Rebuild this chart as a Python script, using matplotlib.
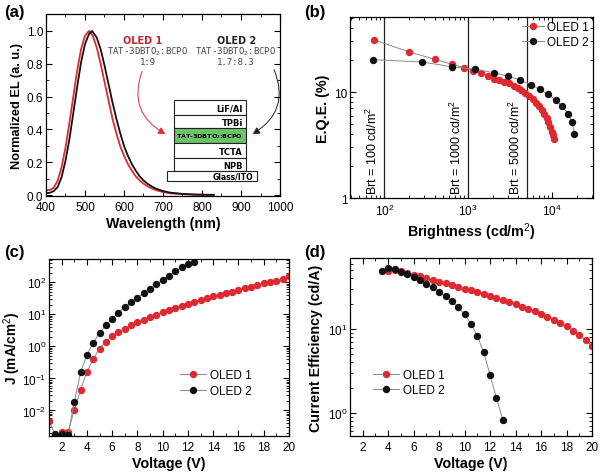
import matplotlib
matplotlib.use("Agg")
import matplotlib.pyplot as plt
from matplotlib.ticker import MultipleLocator, LogLocator, NullFormatter, FixedLocator
from matplotlib.patches import Rectangle, FancyArrowPatch

plt.rcParams['font.family'] = ['Liberation Sans', 'DejaVu Sans']
plt.rcParams['mathtext.fontset'] = 'custom'
plt.rcParams['mathtext.rm'] = 'Liberation Sans'
plt.rcParams['mathtext.bf'] = 'Liberation Sans:bold'

RED = '#dc2a30'
BLACK = '#111111'
GRAY = '#8a8a8a'

# ---------------- data (a) ----------------
wl_1 = [400, 410, 420, 430, 440, 450, 460, 470, 480, 490, 500, 510, 520, 530, 540, 550, 560, 570,
        580, 590, 600, 610, 620, 630, 640, 650, 660, 670, 680, 700, 720, 750, 780, 800, 830]
el_1 = [0.030, 0.032, 0.045, 0.09, 0.17, 0.29, 0.44, 0.60, 0.76, 0.89, 0.97, 1.00, 0.97, 0.90,
        0.80, 0.69, 0.58, 0.47, 0.38, 0.30, 0.24, 0.19, 0.15, 0.115, 0.09, 0.07, 0.055, 0.042,
        0.032, 0.019, 0.011, 0.006, 0.003, 0.002, 0.002]
wl_2 = [400, 410, 420, 430, 440, 450, 460, 470, 480, 490, 500, 510, 518, 530, 540, 550, 560, 570,
        580, 590, 600, 610, 620, 630, 640, 650, 660, 670, 680, 700, 720, 750, 780, 800, 830]
el_2 = [0.012, 0.015, 0.025, 0.05, 0.11, 0.21, 0.34, 0.50, 0.66, 0.81, 0.92, 0.98, 1.00, 0.96,
        0.89, 0.79, 0.68, 0.57, 0.47, 0.38, 0.30, 0.24, 0.19, 0.15, 0.115, 0.09, 0.07, 0.055,
        0.042, 0.025, 0.015, 0.008, 0.004, 0.003, 0.002]

# ---------------- data (b) ----------------
brt_1 = [76, 197, 398, 641, 892, 1150, 1410, 1710, 2015, 2355, 2700, 3100, 3520, 3930, 4340,
         4800, 5320, 5880, 6440, 7000, 7530, 8100, 8640, 9120, 9550, 10000, 10380, 10570]
eqe_1 = [31.0, 23.9, 20.4, 18.3, 17.0, 15.9, 15.0, 14.2, 13.4, 12.9, 12.5, 12.1, 11.5, 10.9,
         10.4, 9.7, 9.16, 8.5, 7.9, 7.4, 6.76, 6.2, 5.7, 5.2, 4.67, 4.18, 3.9, 3.6]
brt_2 = [73, 281, 641, 1215, 2030, 3010, 4150, 5620, 7200, 8960, 11160, 13300, 15650, 17470, 18620]
eqe_2 = [20.2, 19.2, 17.3, 16.4, 15.2, 14.1, 13.0, 11.7, 10.6, 9.5, 8.46, 7.3, 6.24, 5.2, 4.04]
brt_marks = [100, 1000, 5000]
brt_labels = ['Brt = 100 cd/m$^2$', 'Brt = 1000 cd/m$^2$', 'Brt = 5000 cd/m$^2$']

# ---------------- data (c) ----------------
v_j1 = [1.0, 1.5, 2.0, 2.5, 3.0, 3.5, 4.0, 4.5, 5.0, 5.5, 6.0, 6.5, 7.0, 7.5, 8.0, 8.5, 9.0, 9.5,
        10.0, 10.5, 11.0, 11.5, 12.0, 12.5, 13.0, 13.5, 14.0, 14.5, 15.0, 15.5, 16.0, 16.5, 17.0,
        17.5, 18.0, 18.5, 19.0, 19.5, 20.0]
j_1 = [0.0048, 0.0017, 0.0021, 0.0021, 0.0102, 0.044, 0.158, 0.40, 0.85, 1.4, 2.05, 2.8, 3.56,
       4.5, 5.6, 6.8, 8.05, 9.8, 11.5, 13.3, 15.8, 18.2, 21.0, 24.9, 28.0, 31.6, 36.5, 41.0, 45.0,
       51.0, 59.0, 65.0, 73.0, 83.0, 93.0, 102.0, 113.0, 130.0, 154.0]
v_j2 = [1.5, 2.0, 2.5, 3.0, 3.5, 4.0, 4.5, 5.0, 5.5, 6.0, 6.5, 7.0, 7.5, 8.0, 8.5, 9.0, 9.5, 10.0,
        10.5, 11.0, 11.5, 12.0, 12.5]
j_2 = [0.0019, 0.0018, 0.0017, 0.018, 0.154, 0.54, 1.3, 2.55, 4.5, 7.3, 11.3, 16.9, 23.7, 33.0,
       45.0, 62.0, 87.0, 118.0, 161.0, 220.0, 300.0, 383.0, 430.0]

# ---------------- data (d) ----------------
v_ce1 = [4.0, 4.5, 5.0, 5.5, 6.0, 6.5, 7.0, 7.5, 8.0, 8.5, 9.0, 9.5, 10.0, 10.5, 11.0, 11.5, 12.0,
         12.5, 13.0, 13.5, 14.0, 14.5, 15.0, 15.5, 16.0, 16.5, 17.0, 17.5, 18.0, 18.5, 19.0, 19.5, 20.0]
ce_1 = [49.2, 50.5, 48.7, 47.0, 44.5, 42.5, 40.2, 38.1, 36.4, 34.8, 33.2, 31.8, 30.3, 28.7, 27.5,
        26.0, 24.8, 23.5, 22.1, 20.9, 19.6, 18.4, 17.3, 16.2, 15.1, 14.0, 12.9, 11.8, 10.7, 9.56,
        8.5, 7.4, 6.2]
v_ce2 = [3.5, 4.0, 4.5, 5.0, 5.5, 6.0, 6.5, 7.0, 7.5, 8.0, 8.5, 9.0, 9.5, 10.0, 10.5, 11.0, 11.5,
         12.0, 12.5, 13.0]
ce_2 = [49.6, 52.9, 51.9, 47.9, 44.9, 41.4, 37.8, 34.5, 31.2, 27.7, 24.4, 21.3, 18.1, 14.9, 11.6,
        8.2, 5.24, 2.82, 1.49, 0.83]

labels = ['OLED 1', 'OLED 2']

fig = plt.figure(figsize=(6.0, 4.77), dpi=100)
W, H = 600.0, 477.0


def axes_px(l, t, r, b):
    return fig.add_axes([l / W, 1 - b / H, (r - l) / W, (b - t) / H])


LAB = dict(fontsize=10.3, fontweight='bold')


def style(ax):
    ax.tick_params(which='both', direction='in', top=True, right=True, labelsize=8.5)
    ax.tick_params(axis='x', which='both', pad=3.5)
    ax.tick_params(axis='y', which='both', pad=2)
    ax.tick_params(which='major', length=4, width=0.8)
    ax.tick_params(which='minor', length=2, width=0.6)
    for s in ax.spines.values():
        s.set_linewidth(0.9)


# ---------- (a) ----------
axa = axes_px(46, 15, 280, 197)
axa.plot(wl_1, el_1, color=RED, lw=1.3)
axa.plot(wl_2, el_2, color=BLACK, lw=1.3)
axa.set_xlim(400, 1000)
axa.set_ylim(-0.005, 1.103)
axa.xaxis.set_major_locator(MultipleLocator(100))
axa.xaxis.set_minor_locator(MultipleLocator(50))
axa.yaxis.set_major_locator(MultipleLocator(0.2))
axa.yaxis.set_minor_locator(MultipleLocator(0.1))
axa.yaxis.set_major_formatter(matplotlib.ticker.FormatStrFormatter('%.1f'))
axa.set_xlabel('Wavelength (nm)', labelpad=2, **LAB)
axa.set_ylabel('Normalized EL (a. u.)', labelpad=3, fontsize=9.2, fontweight='bold')
style(axa)

mono = dict(family='DejaVu Sans Mono', fontsize=6.5, color='#444444', ha='center', va='center')
axa.text(649, 0.945, 'OLED 1', color='#c8202a', fontsize=7, fontweight='bold', ha='center',
         va='center', family='DejaVu Sans')
axa.text(661, 0.879, 'TAT-3DBTO$_2$:BCPO', **mono)
axa.text(661, 0.812, '1:9', **mono)
axa.text(890, 0.945, 'OLED 2', color='#222222', fontsize=7, fontweight='bold', ha='center',
         va='center', family='DejaVu Sans')
axa.text(887, 0.879, 'TAT-3DBTO$_2$:BCPO', **mono)
axa.text(887, 0.812, '1.7:8.3', **mono)

# device stack
layers = [('LiF/Al', 0.578, 0.487, 'white'), ('TPBi', 0.487, 0.406, 'white'),
          ('TAT-3DBTO$_2$:BCPO', 0.406, 0.315, '#6cc36c'), ('TCTA', 0.315, 0.224, 'white'),
          ('NPB', 0.224, 0.147, 'white')]
for name, top, bot, fc in layers:
    axa.add_patch(Rectangle((728, bot), 913 - 728, top - bot, facecolor=fc, edgecolor='#222222',
                            lw=0.8, zorder=3))
    if fc == 'white':
        axa.text(905, (top + bot) / 2 - 0.004, name, fontsize=6, fontweight='bold', ha='right',
                 va='center', zorder=4, family='DejaVu Sans')
    else:
        axa.text(820, (top + bot) / 2, name, fontsize=4.6, fontweight='bold', ha='center',
                 va='center', zorder=4, family='DejaVu Sans')
axa.add_patch(Rectangle((710, 0.087), 941 - 710, 0.147 - 0.087, facecolor='white',
                        edgecolor='#222222', lw=0.8, zorder=3))
axa.text(880, 0.117, 'Glass/ITO', fontsize=5.5, fontweight='bold', ha='center', va='center',
         zorder=4, family='DejaVu Sans')
axa.add_patch(FancyArrowPatch((649, 0.77), (712, 0.365), connectionstyle='arc3,rad=0.45',
                              arrowstyle='-|>,head_length=4,head_width=2.2', color='#d8303a',
                              lw=0.7, zorder=5))
axa.add_patch(FancyArrowPatch((982, 0.78), (924, 0.364), connectionstyle='arc3,rad=-0.45',
                              arrowstyle='-|>,head_length=4,head_width=2.2', color='#222222',
                              lw=0.7, zorder=5))

# ---------- (b) ----------
axb = axes_px(350, 18, 593, 199)
axb.plot(brt_1, eqe_1, color=GRAY, lw=0.7, marker='o', ms=4.3, mfc=RED, mec=RED, label=labels[0],
         zorder=3)
axb.plot(brt_2, eqe_2, color=GRAY, lw=0.7, marker='o', ms=4.3, mfc=BLACK, mec=BLACK,
         label=labels[1], zorder=3)
for xv, lab in zip(brt_marks, brt_labels):
    axb.axvline(xv, color='#222222', lw=0.9, zorder=2)
    axb.text(xv * 0.9, 1.08, lab, rotation=90, ha='right', va='bottom', fontsize=9)
axb.set_xscale('log')
axb.set_yscale('log')
axb.set_xlim(39, 31000)
axb.set_ylim(1, 51)
axb.yaxis.set_major_locator(FixedLocator([1, 10]))
axb.set_yticklabels(['1', '10'])
axb.yaxis.set_minor_locator(LogLocator(base=10, subs=range(2, 10)))
axb.yaxis.set_minor_formatter(NullFormatter())
axb.xaxis.set_minor_locator(LogLocator(base=10, subs=range(2, 10)))
axb.xaxis.set_minor_formatter(NullFormatter())
axb.set_xlabel('Brightness (cd/m$^2$)', labelpad=2, **LAB)
axb.set_ylabel('E.Q.E. (%)', labelpad=3, **LAB)
style(axb)
axb.legend(loc='upper right', bbox_to_anchor=(1.0, 1.0), frameon=False, fontsize=8.5,
           handlelength=1.8, borderpad=0.2, labelspacing=0.25, handletextpad=0.3,
           borderaxespad=0.15)

# ---------- (c) ----------
axc = axes_px(49, 260, 289, 437)
axc.plot(v_j1, j_1, color=GRAY, lw=0.7, marker='o', ms=4.3, mfc=RED, mec=RED, label=labels[0])
axc.plot(v_j2, j_2, color=GRAY, lw=0.7, marker='o', ms=4.3, mfc=BLACK, mec=BLACK, label=labels[1])
axc.set_yscale('log')
axc.set_xlim(1, 20)
axc.set_ylim(0.0016, 530)
axc.xaxis.set_major_locator(MultipleLocator(2))
axc.xaxis.set_minor_locator(MultipleLocator(1))
axc.yaxis.set_major_locator(FixedLocator([1e-2, 1e-1, 1e0, 1e1, 1e2]))
axc.set_yticklabels(['10$^{-2}$', '10$^{-1}$', '10$^{0}$', '10$^{1}$', '10$^{2}$'])
axc.yaxis.set_minor_locator(LogLocator(base=10, subs=range(2, 10)))
axc.yaxis.set_minor_formatter(NullFormatter())
axc.set_xlabel('Voltage (V)', labelpad=2, **LAB)
axc.set_ylabel('J (mA/cm$^2$)', fontsize=9.8, fontweight='bold')
axc.yaxis.set_label_coords(-0.108, 0.5)
style(axc)
axc.legend(loc='center left', bbox_to_anchor=(0.5, 0.30), frameon=False, fontsize=8.5,
           handlelength=2.2, labelspacing=0.3, handletextpad=0.4)

# ---------- (d) ----------
axd = axes_px(350, 259, 592, 437)
axd.plot(v_ce1, ce_1, color=GRAY, lw=0.7, marker='o', ms=4.3, mfc=RED, mec=RED, label=labels[0])
axd.plot(v_ce2, ce_2, color=GRAY, lw=0.7, marker='o', ms=4.3, mfc=BLACK, mec=BLACK,
         label=labels[1])
axd.set_yscale('log')
axd.set_xlim(1, 20)
axd.set_ylim(0.53, 70)
axd.xaxis.set_major_locator(MultipleLocator(2))
axd.xaxis.set_minor_locator(MultipleLocator(1))
axd.yaxis.set_major_locator(FixedLocator([1e0, 1e1]))
axd.set_yticklabels(['10$^{0}$', '10$^{1}$'])
axd.yaxis.set_minor_locator(LogLocator(base=10, subs=range(2, 10)))
axd.yaxis.set_minor_formatter(NullFormatter())
axd.set_xlabel('Voltage (V)', labelpad=2, **LAB)
axd.set_ylabel('Current Efficiency (cd/A)', labelpad=3, **LAB)
style(axd)
axd.legend(loc='center left', bbox_to_anchor=(0.05, 0.30), frameon=False, fontsize=8.5,
           handlelength=2.2, labelspacing=0.3, handletextpad=0.4)

for txt, x, y in [('(a)', 4, 12), ('(b)', 304, 12), ('(c)', 4, 252), ('(d)', 304, 252)]:
    fig.text(x / W, 1 - y / H, txt, fontsize=12, fontweight='bold', ha='left', va='center')

fig.savefig('out.png', dpi=100)
